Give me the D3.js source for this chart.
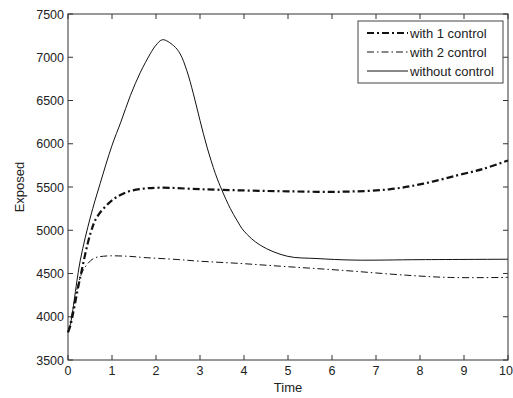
<!DOCTYPE html>
<html>
<head>
<meta charset="utf-8">
<script src="https://cdn.jsdelivr.net/npm/d3@7"></script>
<style>
    body { margin: 0; background: #fff; }
    text { font-family: "Liberation Sans", Arial, sans-serif; fill: #222; }
</style>
</head>
<body>
<div id="main"></div>
<script>
const W = 513;
const H = 398;
const M = { top: 14, right: 5, bottom: 38, left: 68 };

const tWithout = [0, 0.05, 0.28, 0.51, 0.73, 1.0, 1.2, 1.42, 1.64, 1.87, 2.0, 2.15, 2.4, 2.55, 2.7, 2.85, 3.0, 3.16, 3.35, 3.5, 3.69, 3.84, 4.0, 4.37, 4.98, 5.66, 6.5, 8, 10];
const vWithout = [3820, 3900, 4654, 5153, 5539, 5980, 6250, 6560, 6820, 7040, 7140, 7203, 7134, 7038, 6846, 6577, 6269, 5961, 5654, 5461, 5250, 5115, 4990, 4827, 4700, 4673, 4655, 4660, 4665];

const tOne = [0, 0.05, 0.28, 0.51, 0.66, 1.0, 1.34, 1.72, 2.1, 3.0, 4.0, 5.0, 6.2, 7.3, 8.08, 8.84, 9.45, 10];
const vOne = [3820, 3890, 4461, 4962, 5153, 5346, 5442, 5481, 5492, 5475, 5460, 5450, 5445, 5473, 5539, 5634, 5711, 5807];

const tTwo = [0, 0.1, 0.2, 0.28, 0.39, 0.58, 0.81, 1.34, 1.72, 2.48, 3.0, 3.92, 4.83, 6.19, 7.7, 8.69, 10];
const vTwo = [3820, 4060, 4310, 4461, 4576, 4673, 4700, 4700, 4685, 4662, 4642, 4616, 4584, 4538, 4480, 4454, 4455];

const xTicks = [0, 1, 2, 3, 4, 5, 6, 7, 8, 9, 10];
const yTicks = [3500, 4000, 4500, 5000, 5500, 6000, 6500, 7000, 7500];

const seriesNames = ["with 1 control", "with 2 control", "without control"];

const svg = d3.select("#main").append("svg")
    .attr("width", W)
    .attr("height", H);

const x = d3.scaleLinear().domain([0, 10]).range([M.left, W - M.right]);
const y = d3.scaleLinear().domain([3500, 7500]).range([H - M.bottom, M.top]);

// frame
svg.append("rect")
    .attr("x", x(0)).attr("y", y(7500))
    .attr("width", x(10) - x(0)).attr("height", y(3500) - y(7500))
    .attr("fill", "none").attr("stroke", "#333").attr("stroke-width", 1);

// ticks pointing inward on all four sides
const tk = 5;
const tg = svg.append("g").attr("stroke", "#333").attr("stroke-width", 1);
xTicks.forEach(t => {
    tg.append("line").attr("x1", x(t)).attr("x2", x(t)).attr("y1", y(3500)).attr("y2", y(3500) - tk);
    tg.append("line").attr("x1", x(t)).attr("x2", x(t)).attr("y1", y(7500)).attr("y2", y(7500) + tk);
});
yTicks.forEach(v => {
    tg.append("line").attr("x1", x(0)).attr("x2", x(0) + tk).attr("y1", y(v)).attr("y2", y(v));
    tg.append("line").attr("x1", x(10)).attr("x2", x(10) - tk).attr("y1", y(v)).attr("y2", y(v));
});

svg.append("g").selectAll("text")
    .data(xTicks).enter().append("text")
    .attr("x", d => d == 10 ? x(d) - 2 : x(d)).attr("y", y(3500) + 15)
    .attr("text-anchor", "middle")
    .style("font-size", "12.5px")
    .text(d => d);

svg.append("g").selectAll("text")
    .data(yTicks).enter().append("text")
    .attr("x", x(0) - 4).attr("y", d => y(d) + 4.5)
    .attr("text-anchor", "end")
    .style("font-size", "12.5px")
    .text(d => d);

svg.append("text")
    .attr("x", (x(0) + x(10)) / 2).attr("y", H - 6)
    .attr("text-anchor", "middle")
    .style("font-size", "13px")
    .text("Time");

svg.append("text")
    .attr("transform", "translate(24," + ((y(3500) + y(7500)) / 2) + ") rotate(-90)")
    .attr("text-anchor", "middle")
    .style("font-size", "13px")
    .text("Exposed");

// curves
const line = d3.line()
    .x(d => x(d[0]))
    .y(d => y(d[1]))
    .curve(d3.curveCatmullRom.alpha(0.5));

const styles = [
    { w: 2.2, dash: "7,3,2,3" },
    { w: 1, dash: "7,3,1.5,3" },
    { w: 1, dash: null },
];
const data = [
    d3.zip(tOne, vOne),
    d3.zip(tTwo, vTwo),
    d3.zip(tWithout, vWithout),
];

const plot = svg.append("g");
data.forEach((d, i) => {
    plot.append("path")
        .attr("d", line(d))
        .attr("fill", "none")
        .attr("stroke", "#111")
        .attr("stroke-width", styles[i].w)
        .attr("stroke-dasharray", styles[i].dash);
});

// legend
const lg = svg.append("g");
lg.append("rect")
    .attr("x", 358).attr("y", 21).attr("width", 145).attr("height", 62)
    .attr("fill", "#fff").attr("stroke", "#444");
seriesNames.forEach((name, i) => {
    const ly = 33 + i * 19;
    lg.append("line")
        .attr("x1", 367).attr("x2", 408).attr("y1", ly).attr("y2", ly)
        .attr("stroke", "#111")
        .attr("stroke-width", styles[i].w)
        .attr("stroke-dasharray", styles[i].dash);
    lg.append("text")
        .attr("x", 410).attr("y", ly + 4.5)
        .style("font-size", "13px")
        .text(name);
});
</script>
</body>
</html>
